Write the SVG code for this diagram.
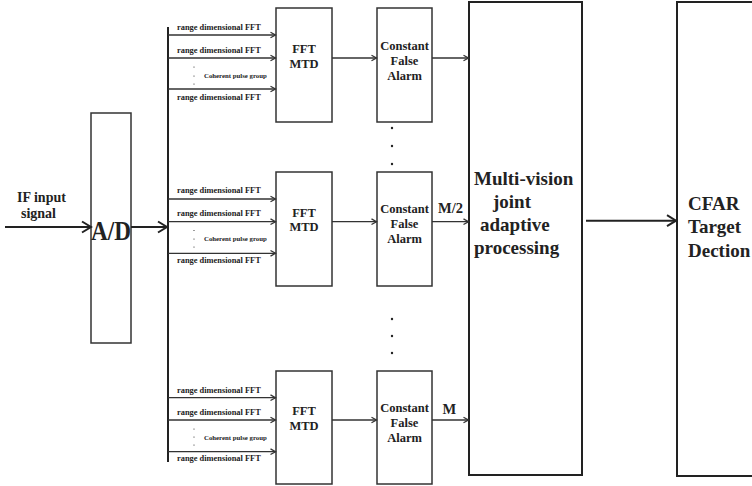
<svg xmlns="http://www.w3.org/2000/svg" width="752" height="486" viewBox="0 0 752 486">
<style>
.box{fill:#fff;stroke:#333;stroke-width:1.5}
.bbox{fill:#fff;stroke:#222;stroke-width:2}
.ln{stroke:#333;stroke-width:1.3;fill:none}
.tl{font-family:"Liberation Serif","Times New Roman",serif;font-weight:bold;fill:#222}
.lab{font-size:8.4px}
.coh{font-size:6.8px}
.nt{font-size:12.5px;text-anchor:middle}
.big{font-size:19px}
.dot{fill:#222}
</style>
<defs>
<marker id="sa" markerUnits="userSpaceOnUse" markerWidth="8" markerHeight="8" refX="6" refY="4" orient="auto">
<path d="M1,1.2 L6,4 L1,6.8" fill="none" stroke="#333" stroke-width="1.3"/>
</marker>
<marker id="ba" markerUnits="userSpaceOnUse" markerWidth="12" markerHeight="14" refX="10" refY="7" orient="auto">
<path d="M1,1.5 L10,7 L1,12.5" fill="none" stroke="#222" stroke-width="2"/>
</marker>
</defs>

<g id="input-label">
<text class="tl" x="17" y="202" font-size="14">IF input</text>
<text class="tl" x="21" y="218" font-size="14">signal</text>
</g>

<g id="ad">
<rect class="box" x="91" y="113" width="40" height="230"/>
<text class="tl" x="91" y="240" font-size="28" textLength="40" lengthAdjust="spacingAndGlyphs">A/D</text>
</g>

<g id="fft1">
<rect class="box" x="276" y="8" width="56" height="114"/>
<text class="tl nt" x="304" y="53">FFT</text>
<text class="tl nt" x="304" y="68">MTD</text>
</g>
<g id="cfa1">
<rect class="box" x="377" y="8" width="55" height="114"/>
<text class="tl nt" x="404.5" y="50">Constant</text>
<text class="tl nt" x="404.5" y="65">False</text>
<text class="tl nt" x="404.5" y="80">Alarm</text>
</g>

<g id="fft2">
<rect class="box" x="276" y="172" width="56" height="114"/>
<text class="tl nt" x="304" y="217">FFT</text>
<text class="tl nt" x="304" y="231">MTD</text>
</g>
<g id="cfa2">
<rect class="box" x="377" y="172" width="55" height="114"/>
<text class="tl nt" x="404.5" y="213">Constant</text>
<text class="tl nt" x="404.5" y="228">False</text>
<text class="tl nt" x="404.5" y="243">Alarm</text>
</g>

<g id="fft3">
<rect class="box" x="276" y="371" width="56" height="113"/>
<text class="tl nt" x="304" y="415">FFT</text>
<text class="tl nt" x="304" y="429.5">MTD</text>
</g>
<g id="cfa3">
<rect class="box" x="377" y="371" width="55" height="113"/>
<text class="tl nt" x="404.5" y="412">Constant</text>
<text class="tl nt" x="404.5" y="427">False</text>
<text class="tl nt" x="404.5" y="442">Alarm</text>
</g>

<g id="multi">
<rect class="bbox" x="469" y="2" width="113" height="473"/>
<text class="tl big" x="474" y="185">Multi-vision</text>
<text class="tl big" x="493" y="208">joint</text>
<text class="tl big" x="480" y="231">adaptive</text>
<text class="tl big" x="474" y="254">processing</text>
</g>

<g id="cfar">
<rect class="bbox" x="677" y="2" width="100" height="474"/>
<text class="tl big" x="688" y="210">CFAR</text>
<text class="tl big" x="688" y="233">Target</text>
<text class="tl big" x="688" y="257">Dection</text>
</g>

<g id="labels">
<text class="tl lab" x="177" y="30">range dimensional FFT</text>
<text class="tl lab" x="177" y="53">range dimensional FFT</text>
<text class="tl coh" x="204" y="78">Coherent pulse group</text>
<text class="tl lab" x="177" y="100">range dimensional FFT</text>
<text class="tl lab" x="177" y="193">range dimensional FFT</text>
<text class="tl lab" x="177" y="216">range dimensional FFT</text>
<text class="tl coh" x="204" y="241">Coherent pulse group</text>
<text class="tl lab" x="177" y="263">range dimensional FFT</text>
<text class="tl lab" x="177" y="393">range dimensional FFT</text>
<text class="tl lab" x="177" y="414.5">range dimensional FFT</text>
<text class="tl coh" x="204" y="440">Coherent pulse group</text>
<text class="tl lab" x="177" y="461">range dimensional FFT</text>
<text class="tl" x="438" y="213" font-size="14.5">M/2</text>
<text class="tl" x="442.5" y="413.5" font-size="14.5">M</text>
</g>

<g id="dots">
<circle class="dot" cx="194" cy="67" r="0.6"/>
<circle class="dot" cx="194" cy="76" r="0.6"/>
<circle class="dot" cx="194" cy="84" r="0.6"/>
<circle class="dot" cx="194" cy="230.5" r="0.6"/>
<circle class="dot" cx="194" cy="239" r="0.6"/>
<circle class="dot" cx="194" cy="247" r="0.6"/>
<circle class="dot" cx="194" cy="429" r="0.6"/>
<circle class="dot" cx="194" cy="437" r="0.6"/>
<circle class="dot" cx="194" cy="445" r="0.6"/>
<circle class="dot" cx="392" cy="128" r="1.2"/>
<circle class="dot" cx="392" cy="146" r="1.2"/>
<circle class="dot" cx="392" cy="164" r="1.2"/>
<circle class="dot" cx="392" cy="319" r="1.2"/>
<circle class="dot" cx="392" cy="336" r="1.2"/>
<circle class="dot" cx="392" cy="353" r="1.2"/>
</g>

<g id="connectors">
<line x1="5" y1="227" x2="91" y2="227" stroke="#222" stroke-width="2" marker-end="url(#ba)"/>
<line x1="131" y1="227" x2="167" y2="227" stroke="#222" stroke-width="2" marker-end="url(#ba)"/>
<line x1="168" y1="27" x2="168" y2="462" stroke="#222" stroke-width="2"/>
<line class="ln" x1="168" y1="35" x2="275.5" y2="35" marker-end="url(#sa)"/>
<line class="ln" x1="168" y1="58" x2="275.5" y2="58" marker-end="url(#sa)"/>
<line class="ln" x1="168" y1="89" x2="275.5" y2="89" marker-end="url(#sa)"/>
<line class="ln" x1="168" y1="199" x2="275.5" y2="199" marker-end="url(#sa)"/>
<line class="ln" x1="168" y1="221.7" x2="275.5" y2="221.7" marker-end="url(#sa)"/>
<line class="ln" x1="168" y1="253.3" x2="275.5" y2="253.3" marker-end="url(#sa)"/>
<line class="ln" x1="168" y1="397.7" x2="275.5" y2="397.7" marker-end="url(#sa)"/>
<line class="ln" x1="168" y1="420" x2="275.5" y2="420" marker-end="url(#sa)"/>
<line class="ln" x1="168" y1="451.7" x2="275.5" y2="451.7" marker-end="url(#sa)"/>
<line class="ln" x1="332" y1="58" x2="376.5" y2="58" marker-end="url(#sa)"/>
<line class="ln" x1="432" y1="58" x2="468.5" y2="58" marker-end="url(#sa)"/>
<line class="ln" x1="332" y1="221.7" x2="376.5" y2="221.7" marker-end="url(#sa)"/>
<line class="ln" x1="432" y1="221.7" x2="468.5" y2="221.7" marker-end="url(#sa)"/>
<line class="ln" x1="332" y1="420" x2="376.5" y2="420" marker-end="url(#sa)"/>
<line class="ln" x1="432" y1="420" x2="468.5" y2="420" marker-end="url(#sa)"/>
<line x1="586" y1="220.7" x2="676" y2="220.7" stroke="#222" stroke-width="2" marker-end="url(#ba)"/>
</g>
</svg>
